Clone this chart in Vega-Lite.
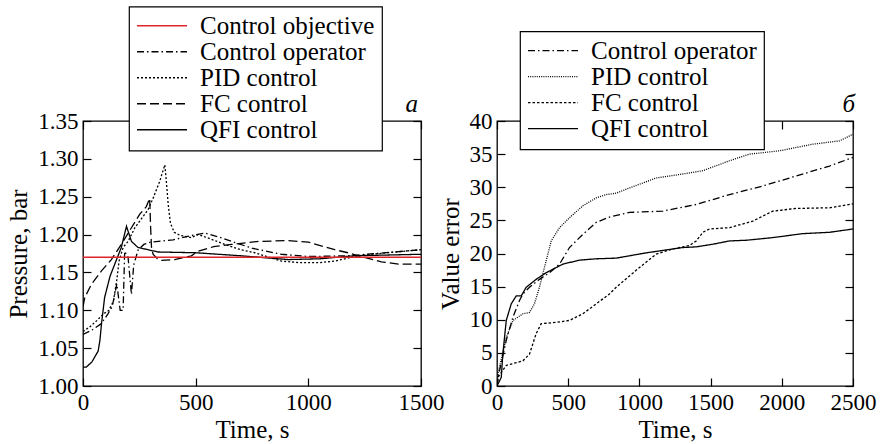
{
 "$schema": "https://vega.github.io/schema/vega-lite/v6.json",
 "autosize": {"type": "pad"},
 "padding": {"left": 6, "top": 5, "right": 5, "bottom": 0},
 "background": "white",
 "config": {
  "view": {"stroke": "black", "strokeWidth": 1.3},
  "font": "Liberation Serif",
  "axis": {"labelFont": "Liberation Serif", "labelFontSize": 23, "labelColor": "black", "titleFont": "Liberation Serif", "titleFontSize": 25, "titleFontWeight": "normal", "titleColor": "black", "domain": false, "grid": false, "ticks": true, "tickColor": "black", "tickWidth": 1.2, "tickSize": -8, "labelPadding": 13, "labelOverlap": false, "labelFlush": false},
  "legend": {"orient": "none", "direction": "vertical", "fillColor": "white", "strokeColor": "black", "strokeWidth": 1.2, "padding": 7, "labelFont": "Liberation Serif", "labelFontSize": 25, "labelColor": "black", "symbolType": "stroke", "symbolSize": 2500, "symbolStrokeWidth": 1.3, "labelOffset": 12, "rowPadding": 0, "symbolOffset": 0, "labelLimit": 400, "clipHeight": 24.5}
 },
 "datasets": {
  "left": [
   {"s": "Control objective", "t": 0, "v": 1.17}, {"s": "Control objective", "t": 1500, "v": 1.17},
   {"s": "Control operator", "t": 0, "v": 1.068}, {"s": "Control operator", "t": 40, "v": 1.074}, {"s": "Control operator", "t": 80, "v": 1.082}, {"s": "Control operator", "t": 110, "v": 1.095}, {"s": "Control operator", "t": 130, "v": 1.105}, {"s": "Control operator", "t": 150, "v": 1.135}, {"s": "Control operator", "t": 165, "v": 1.1}, {"s": "Control operator", "t": 178, "v": 1.1}, {"s": "Control operator", "t": 185, "v": 1.178}, {"s": "Control operator", "t": 200, "v": 1.17}, {"s": "Control operator", "t": 215, "v": 1.121}, {"s": "Control operator", "t": 225, "v": 1.16}, {"s": "Control operator", "t": 245, "v": 1.18}, {"s": "Control operator", "t": 270, "v": 1.187}, {"s": "Control operator", "t": 300, "v": 1.19}, {"s": "Control operator", "t": 400, "v": 1.193}, {"s": "Control operator", "t": 470, "v": 1.198}, {"s": "Control operator", "t": 540, "v": 1.202}, {"s": "Control operator", "t": 600, "v": 1.197}, {"s": "Control operator", "t": 660, "v": 1.191}, {"s": "Control operator", "t": 750, "v": 1.182}, {"s": "Control operator", "t": 880, "v": 1.174}, {"s": "Control operator", "t": 1000, "v": 1.171}, {"s": "Control operator", "t": 1176, "v": 1.172}, {"s": "Control operator", "t": 1300, "v": 1.175}, {"s": "Control operator", "t": 1500, "v": 1.18},
   {"s": "PID control", "t": 0, "v": 1.072}, {"s": "PID control", "t": 30, "v": 1.078}, {"s": "PID control", "t": 60, "v": 1.086}, {"s": "PID control", "t": 90, "v": 1.095}, {"s": "PID control", "t": 115, "v": 1.1}, {"s": "PID control", "t": 135, "v": 1.112}, {"s": "PID control", "t": 150, "v": 1.14}, {"s": "PID control", "t": 160, "v": 1.165}, {"s": "PID control", "t": 178, "v": 1.183}, {"s": "PID control", "t": 200, "v": 1.191}, {"s": "PID control", "t": 230, "v": 1.209}, {"s": "PID control", "t": 267, "v": 1.224}, {"s": "PID control", "t": 289, "v": 1.233}, {"s": "PID control", "t": 311, "v": 1.248}, {"s": "PID control", "t": 340, "v": 1.27}, {"s": "PID control", "t": 363, "v": 1.292}, {"s": "PID control", "t": 370, "v": 1.27}, {"s": "PID control", "t": 378, "v": 1.24}, {"s": "PID control", "t": 388, "v": 1.215}, {"s": "PID control", "t": 405, "v": 1.203}, {"s": "PID control", "t": 430, "v": 1.199}, {"s": "PID control", "t": 481, "v": 1.196}, {"s": "PID control", "t": 511, "v": 1.2}, {"s": "PID control", "t": 560, "v": 1.195}, {"s": "PID control", "t": 629, "v": 1.187}, {"s": "PID control", "t": 700, "v": 1.18}, {"s": "PID control", "t": 762, "v": 1.176}, {"s": "PID control", "t": 880, "v": 1.165}, {"s": "PID control", "t": 960, "v": 1.163}, {"s": "PID control", "t": 1050, "v": 1.163}, {"s": "PID control", "t": 1117, "v": 1.165}, {"s": "PID control", "t": 1221, "v": 1.172}, {"s": "PID control", "t": 1350, "v": 1.176}, {"s": "PID control", "t": 1500, "v": 1.18},
   {"s": "FC control", "t": 0, "v": 1.105}, {"s": "FC control", "t": 8, "v": 1.117}, {"s": "FC control", "t": 37, "v": 1.134}, {"s": "FC control", "t": 82, "v": 1.152}, {"s": "FC control", "t": 126, "v": 1.167}, {"s": "FC control", "t": 170, "v": 1.187}, {"s": "FC control", "t": 215, "v": 1.209}, {"s": "FC control", "t": 252, "v": 1.227}, {"s": "FC control", "t": 281, "v": 1.237}, {"s": "FC control", "t": 296, "v": 1.248}, {"s": "FC control", "t": 300, "v": 1.21}, {"s": "FC control", "t": 304, "v": 1.183}, {"s": "FC control", "t": 311, "v": 1.174}, {"s": "FC control", "t": 330, "v": 1.168}, {"s": "FC control", "t": 348, "v": 1.166}, {"s": "FC control", "t": 407, "v": 1.167}, {"s": "FC control", "t": 481, "v": 1.172}, {"s": "FC control", "t": 511, "v": 1.178}, {"s": "FC control", "t": 580, "v": 1.184}, {"s": "FC control", "t": 659, "v": 1.187}, {"s": "FC control", "t": 780, "v": 1.191}, {"s": "FC control", "t": 910, "v": 1.192}, {"s": "FC control", "t": 1000, "v": 1.19}, {"s": "FC control", "t": 1117, "v": 1.18}, {"s": "FC control", "t": 1176, "v": 1.176}, {"s": "FC control", "t": 1221, "v": 1.172}, {"s": "FC control", "t": 1324, "v": 1.164}, {"s": "FC control", "t": 1400, "v": 1.161}, {"s": "FC control", "t": 1500, "v": 1.161},
   {"s": "QFI control", "t": 0, "v": 1.025}, {"s": "QFI control", "t": 15, "v": 1.025}, {"s": "QFI control", "t": 40, "v": 1.032}, {"s": "QFI control", "t": 67, "v": 1.046}, {"s": "QFI control", "t": 75, "v": 1.06}, {"s": "QFI control", "t": 82, "v": 1.082}, {"s": "QFI control", "t": 96, "v": 1.117}, {"s": "QFI control", "t": 120, "v": 1.145}, {"s": "QFI control", "t": 141, "v": 1.161}, {"s": "QFI control", "t": 170, "v": 1.183}, {"s": "QFI control", "t": 193, "v": 1.211}, {"s": "QFI control", "t": 205, "v": 1.2}, {"s": "QFI control", "t": 215, "v": 1.191}, {"s": "QFI control", "t": 244, "v": 1.183}, {"s": "QFI control", "t": 333, "v": 1.177}, {"s": "QFI control", "t": 500, "v": 1.176}, {"s": "QFI control", "t": 700, "v": 1.172}, {"s": "QFI control", "t": 910, "v": 1.167}, {"s": "QFI control", "t": 1050, "v": 1.168}, {"s": "QFI control", "t": 1206, "v": 1.172}, {"s": "QFI control", "t": 1500, "v": 1.174}
  ],
  "right": [
   {"s": "Control operator", "t": 0, "v": 0}, {"s": "Control operator", "t": 18, "v": 2.3}, {"s": "Control operator", "t": 65, "v": 6.9}, {"s": "Control operator", "t": 112, "v": 10.4}, {"s": "Control operator", "t": 158, "v": 12.9}, {"s": "Control operator", "t": 182, "v": 13.9}, {"s": "Control operator", "t": 228, "v": 14.9}, {"s": "Control operator", "t": 298, "v": 16.1}, {"s": "Control operator", "t": 369, "v": 17.1}, {"s": "Control operator", "t": 439, "v": 18.4}, {"s": "Control operator", "t": 509, "v": 20.9}, {"s": "Control operator", "t": 603, "v": 22.9}, {"s": "Control operator", "t": 697, "v": 24.7}, {"s": "Control operator", "t": 790, "v": 25.5}, {"s": "Control operator", "t": 931, "v": 26.2}, {"s": "Control operator", "t": 1165, "v": 26.4}, {"s": "Control operator", "t": 1399, "v": 27.4}, {"s": "Control operator", "t": 1633, "v": 28.9}, {"s": "Control operator", "t": 1867, "v": 30.2}, {"s": "Control operator", "t": 2101, "v": 31.7}, {"s": "Control operator", "t": 2335, "v": 33.2}, {"s": "Control operator", "t": 2500, "v": 34.5},
   {"s": "PID control", "t": 0, "v": 0}, {"s": "PID control", "t": 6, "v": 1.8}, {"s": "PID control", "t": 65, "v": 7.3}, {"s": "PID control", "t": 112, "v": 9.9}, {"s": "PID control", "t": 182, "v": 10.9}, {"s": "PID control", "t": 228, "v": 11.1}, {"s": "PID control", "t": 263, "v": 12.4}, {"s": "PID control", "t": 298, "v": 14.9}, {"s": "PID control", "t": 345, "v": 18.9}, {"s": "PID control", "t": 381, "v": 21.9}, {"s": "PID control", "t": 439, "v": 23.9}, {"s": "PID control", "t": 509, "v": 25.4}, {"s": "PID control", "t": 603, "v": 27.2}, {"s": "PID control", "t": 697, "v": 28.4}, {"s": "PID control", "t": 767, "v": 28.9}, {"s": "PID control", "t": 837, "v": 29.1}, {"s": "PID control", "t": 931, "v": 29.9}, {"s": "PID control", "t": 1118, "v": 31.4}, {"s": "PID control", "t": 1305, "v": 32.0}, {"s": "PID control", "t": 1446, "v": 32.5}, {"s": "PID control", "t": 1633, "v": 34.0}, {"s": "PID control", "t": 1773, "v": 35.0}, {"s": "PID control", "t": 1984, "v": 35.5}, {"s": "PID control", "t": 2218, "v": 36.5}, {"s": "PID control", "t": 2405, "v": 37.0}, {"s": "PID control", "t": 2500, "v": 38.0},
   {"s": "FC control", "t": 0, "v": 0}, {"s": "FC control", "t": 6, "v": 1.3}, {"s": "FC control", "t": 65, "v": 3.1}, {"s": "FC control", "t": 182, "v": 3.8}, {"s": "FC control", "t": 228, "v": 4.8}, {"s": "FC control", "t": 275, "v": 7.9}, {"s": "FC control", "t": 310, "v": 9.4}, {"s": "FC control", "t": 416, "v": 9.6}, {"s": "FC control", "t": 509, "v": 9.9}, {"s": "FC control", "t": 603, "v": 10.9}, {"s": "FC control", "t": 697, "v": 12.4}, {"s": "FC control", "t": 790, "v": 13.9}, {"s": "FC control", "t": 837, "v": 14.9}, {"s": "FC control", "t": 1001, "v": 17.9}, {"s": "FC control", "t": 1118, "v": 19.9}, {"s": "FC control", "t": 1235, "v": 20.7}, {"s": "FC control", "t": 1352, "v": 21.2}, {"s": "FC control", "t": 1399, "v": 21.9}, {"s": "FC control", "t": 1446, "v": 23.2}, {"s": "FC control", "t": 1492, "v": 23.7}, {"s": "FC control", "t": 1633, "v": 23.9}, {"s": "FC control", "t": 1797, "v": 24.9}, {"s": "FC control", "t": 1937, "v": 26.4}, {"s": "FC control", "t": 2101, "v": 26.8}, {"s": "FC control", "t": 2335, "v": 26.9}, {"s": "FC control", "t": 2500, "v": 27.5},
   {"s": "QFI control", "t": 0, "v": 0}, {"s": "QFI control", "t": 30, "v": 1.3}, {"s": "QFI control", "t": 41, "v": 4.8}, {"s": "QFI control", "t": 65, "v": 9.9}, {"s": "QFI control", "t": 100, "v": 12.4}, {"s": "QFI control", "t": 135, "v": 13.6}, {"s": "QFI control", "t": 170, "v": 13.6}, {"s": "QFI control", "t": 205, "v": 14.9}, {"s": "QFI control", "t": 275, "v": 16.1}, {"s": "QFI control", "t": 345, "v": 17.1}, {"s": "QFI control", "t": 463, "v": 18.4}, {"s": "QFI control", "t": 580, "v": 19.0}, {"s": "QFI control", "t": 697, "v": 19.2}, {"s": "QFI control", "t": 837, "v": 19.3}, {"s": "QFI control", "t": 1048, "v": 20.1}, {"s": "QFI control", "t": 1305, "v": 20.9}, {"s": "QFI control", "t": 1399, "v": 21.0}, {"s": "QFI control", "t": 1516, "v": 21.4}, {"s": "QFI control", "t": 1633, "v": 21.9}, {"s": "QFI control", "t": 1750, "v": 22.0}, {"s": "QFI control", "t": 1937, "v": 22.4}, {"s": "QFI control", "t": 2148, "v": 23.0}, {"s": "QFI control", "t": 2335, "v": 23.2}, {"s": "QFI control", "t": 2500, "v": 23.7}
  ]
 },
 "spacing": 76,
 "bounds": "flush",
 "resolve": {"scale": {"x": "independent", "y": "independent", "color": "independent", "strokeDash": "independent"}, "legend": {"color": "independent", "strokeDash": "independent"}},
 "hconcat": [
  {
   "width": 338, "height": 265,
   "resolve": {"axis": {"x": "independent", "y": "independent"}},
   "layer": [
    {
     "data": {"name": "left"},
     "transform": [{"filter": "datum.s != 'Control objective'"}],
     "mark": {"type": "line", "strokeWidth": 1.3, "clip": true},
     "encoding": {
      "x": {"field": "t", "type": "quantitative", "scale": {"domain": [0, 1500], "nice": false, "zero": false}, "axis": {"orient": "bottom", "values": [0, 500, 1000, 1500], "format": "d", "title": "Time, s", "titlePadding": 3}},
      "y": {"field": "v", "type": "quantitative", "scale": {"domain": [1.0, 1.35], "nice": false, "zero": false}, "axis": {"orient": "left", "values": [1.0, 1.05, 1.1, 1.15, 1.2, 1.25, 1.3, 1.35], "format": ".2f", "title": "Pressure, bar", "titlePadding": 6}},
      "color": {"field": "s", "type": "nominal", "scale": {"domain": ["Control objective", "Control operator", "PID control", "FC control", "QFI control"], "range": ["#e0252b", "black", "black", "black", "black"]}, "legend": {"title": null, "legendX": 46, "legendY": -114.5}},
      "strokeDash": {"field": "s", "type": "nominal", "scale": {"domain": ["Control objective", "Control operator", "PID control", "FC control", "QFI control"], "range": [[1, 0], [7, 3, 1.5, 3], [2, 2], [9, 4], [1, 0]]}, "legend": {"title": null, "legendX": 46, "legendY": -114.5}}
     }
    },
    {
     "data": {"name": "left"},
     "transform": [{"filter": "datum.s == 'Control objective'"}],
     "mark": {"type": "line", "strokeWidth": 1.6},
     "encoding": {
      "x": {"field": "t", "type": "quantitative", "axis": {"orient": "top", "values": [0, 500, 1000, 1500], "labels": false, "title": null}},
      "y": {"field": "v", "type": "quantitative", "axis": {"orient": "right", "values": [1.0, 1.05, 1.1, 1.15, 1.2, 1.25, 1.3, 1.35], "labels": false, "title": null}},
      "color": {"field": "s", "type": "nominal", "scale": {"domain": ["Control objective", "Control operator", "PID control", "FC control", "QFI control"], "range": ["#e0252b", "black", "black", "black", "black"]}, "legend": {"title": null, "legendX": 46, "legendY": -114.5}},
      "strokeDash": {"field": "s", "type": "nominal", "scale": {"domain": ["Control objective", "Control operator", "PID control", "FC control", "QFI control"], "range": [[1, 0], [7, 3, 1.5, 3], [2, 2], [9, 4], [1, 0]]}, "legend": {"title": null, "legendX": 46, "legendY": -114.5}}
     }
    },
    {
     "data": {"values": [{"t": 1500, "v": 1.35, "label": "a"}]},
     "mark": {"type": "text", "align": "right", "baseline": "alphabetic", "dy": -9, "dx": -3, "font": "Liberation Serif", "fontSize": 25, "fontStyle": "italic", "color": "black", "clip": false},
     "encoding": {
      "x": {"field": "t", "type": "quantitative", "axis": null},
      "y": {"field": "v", "type": "quantitative", "axis": null},
      "text": {"field": "label"}
     }
    }
   ]
  },
  {
   "width": 356, "height": 265,
   "resolve": {"axis": {"x": "independent", "y": "independent"}},
   "layer": [
    {
     "data": {"name": "right"},
     "mark": {"type": "line", "strokeWidth": 1.3, "clip": true},
     "encoding": {
      "x": {"field": "t", "type": "quantitative", "scale": {"domain": [0, 2500], "nice": false, "zero": false}, "axis": {"orient": "bottom", "values": [0, 500, 1000, 1500, 2000, 2500], "format": "d", "title": "Time, s", "titlePadding": 3}},
      "y": {"field": "v", "type": "quantitative", "scale": {"domain": [0, 40], "nice": false}, "axis": {"orient": "left", "values": [0, 5, 10, 15, 20, 25, 30, 35, 40], "title": "Value error", "titlePadding": 6}},
      "color": {"field": "s", "type": "nominal", "scale": {"domain": ["Control operator", "PID control", "FC control", "QFI control"], "range": ["black", "black", "black", "black"]}, "legend": {"title": null, "legendX": 23, "legendY": -89.7}},
      "strokeDash": {"field": "s", "type": "nominal", "scale": {"domain": ["Control operator", "PID control", "FC control", "QFI control"], "range": [[7, 3, 1.5, 3], [1, 1.2], [2.5, 2], [1, 0]]}, "legend": {"title": null, "legendX": 23, "legendY": -89.7}}
     }
    },
    {
     "data": {"name": "right"},
     "mark": {"type": "point", "opacity": 0},
     "encoding": {
      "x": {"field": "t", "type": "quantitative", "axis": {"orient": "top", "values": [0, 500, 1000, 1500, 2000, 2500], "labels": false, "title": null}},
      "y": {"field": "v", "type": "quantitative", "axis": {"orient": "right", "values": [0, 5, 10, 15, 20, 25, 30, 35, 40], "labels": false, "title": null}}
     }
    },
    {
     "data": {"values": [{"t": 2500, "v": 40, "label": "б"}]},
     "mark": {"type": "text", "align": "right", "baseline": "alphabetic", "dy": -9, "dx": 2, "font": "Liberation Serif", "fontSize": 25, "fontStyle": "italic", "color": "black", "clip": false},
     "encoding": {
      "x": {"field": "t", "type": "quantitative", "axis": null},
      "y": {"field": "v", "type": "quantitative", "axis": null},
      "text": {"field": "label"}
     }
    }
   ]
  }
 ]
}
